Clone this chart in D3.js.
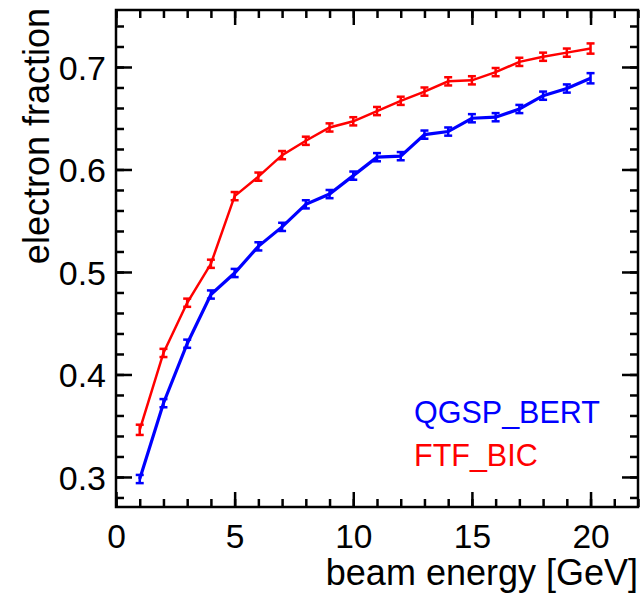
<!DOCTYPE html>
<html>
<head>
<meta charset="utf-8">
<script src="https://cdn.jsdelivr.net/npm/d3@7"></script>
<style>
  body { margin: 0; background: #fff; }
  svg { display: block; font-family: "Liberation Sans", Arial, sans-serif; }
</style>
</head>
<body>
<div id="chart"></div>
<script>
// beam energies [GeV]
var energies = [1, 2, 3, 4, 5, 6, 7, 8, 9, 10, 11, 12, 13, 14, 15, 16, 17, 18, 19, 20];

// electron fraction, QGSP_BERT
var qgspBert = [0.298, 0.372, 0.430, 0.478, 0.499, 0.525, 0.544, 0.566, 0.576, 0.594,
                0.612, 0.613, 0.634, 0.637, 0.650, 0.651, 0.659, 0.672, 0.679, 0.689];
var qgspBertErr = [0.004, 0.004, 0.004, 0.004, 0.004, 0.004, 0.004, 0.004, 0.004, 0.004,
                   0.004, 0.004, 0.004, 0.004, 0.004, 0.004, 0.004, 0.004, 0.004, 0.005];

// electron fraction, FTF_BIC
var ftfBic = [0.346, 0.421, 0.470, 0.508, 0.574, 0.593, 0.614, 0.628, 0.641, 0.647,
              0.657, 0.667, 0.676, 0.686, 0.687, 0.695, 0.705, 0.710, 0.714, 0.718];
var ftfBicErr = [0.005, 0.004, 0.004, 0.004, 0.004, 0.004, 0.004, 0.004, 0.004, 0.004,
                 0.004, 0.004, 0.004, 0.004, 0.004, 0.004, 0.004, 0.004, 0.004, 0.005];

var xMajor = [0, 5, 10, 15, 20];
var yMajor = [0.3, 0.4, 0.5, 0.6, 0.7];

var width = 641, height = 594;
var margin = {top: 10, right: 3, bottom: 87, left: 116};
var w = width - margin.left - margin.right,
    h = height - margin.top - margin.bottom;

var svg = d3.select("#chart").append("svg")
    .attr("width", width)
    .attr("height", height);

var g = svg.append("g")
    .attr("transform", "translate(" + margin.left + "," + margin.top + ")");

var x = d3.scaleLinear().domain([0, 22]).range([0, w]);
var y = d3.scaleLinear().domain([0.2707, 0.7556]).range([h, 0]);

var xMinor = d3.range(0, 23, 1);
var yMinor = d3.range(0.28, 0.75, 0.02);

// ticks (inside the frame, on all four sides)
function tickAxis(axis, vals, size, tx, ty) {
  var a = g.append("g")
      .attr("transform", "translate(" + tx + "," + ty + ")")
      .call(axis.tickValues(vals).tickSize(size).tickFormat(""));
  a.select(".domain").remove();
  a.selectAll("line").attr("stroke", "#000").attr("stroke-width", 2.5);
  return a;
}
tickAxis(d3.axisBottom(x), xMinor, -8, 0, h);
tickAxis(d3.axisBottom(x), xMajor, -15, 0, h);
tickAxis(d3.axisTop(x), xMinor, -8, 0, 0);
tickAxis(d3.axisTop(x), xMajor, -15, 0, 0);
tickAxis(d3.axisLeft(y), yMinor, -8, 0, 0);
tickAxis(d3.axisLeft(y), yMajor, -16, 0, 0);
tickAxis(d3.axisRight(y), yMinor, -8, w, 0);
tickAxis(d3.axisRight(y), yMajor, -16, w, 0);

// tick labels
var xl = g.append("g")
    .attr("transform", "translate(0," + h + ")")
    .call(d3.axisBottom(x).tickValues(xMajor).tickSize(0).tickPadding(0).tickFormat(d3.format("d")));
xl.select(".domain").remove();
xl.selectAll("text")
    .attr("y", 41)
    .attr("dy", 0)
    .attr("font-size", 33.5)
    .attr("font-family", "Liberation Sans, Arial, sans-serif")
    .attr("fill", "#000");

var yl = g.append("g")
    .call(d3.axisLeft(y).tickValues(yMajor).tickSize(0).tickPadding(0).tickFormat(d3.format(".1f")));
yl.select(".domain").remove();
yl.selectAll("text")
    .attr("x", -10)
    .attr("dy", "0.36em")
    .attr("font-size", 34)
    .attr("font-family", "Liberation Sans, Arial, sans-serif")
    .attr("fill", "#000");

// frame
g.append("rect")
    .attr("width", w)
    .attr("height", h)
    .attr("fill", "none")
    .attr("stroke", "#000")
    .attr("stroke-width", 2.5);

// axis titles
svg.append("text")
    .attr("x", 638)
    .attr("y", 585)
    .attr("text-anchor", "end")
    .attr("font-size", 36)
    .text("beam energy [GeV]");

svg.append("text")
    .attr("transform", "translate(49,8) rotate(-90)")
    .attr("text-anchor", "end")
    .attr("font-size", 36)
    .text("electron fraction");

// series
var series = [
  {name: "QGSP_BERT", vals: qgspBert, errs: qgspBertErr, color: "#0000ff", lw: 3.2},
  {name: "FTF_BIC", vals: ftfBic, errs: ftfBicErr, color: "#ff0000", lw: 2.5}
];

var line = d3.line()
    .x(function(d) { return x(d.e); })
    .y(function(d) { return y(d.v); });

series.forEach(function(s) {
  var pts = energies.map(function(e, i) { return {e: e, v: s.vals[i], err: s.errs[i]}; });
  var sg = g.append("g");

  sg.append("path")
      .datum(pts)
      .attr("d", line)
      .attr("fill", "none")
      .attr("stroke", s.color)
      .attr("stroke-width", s.lw);

  var eb = sg.selectAll(".err")
      .data(pts)
      .enter().append("g")
      .attr("class", "err")
      .attr("stroke", s.color)
      .attr("stroke-width", 2.5);
  eb.append("line")
      .attr("x1", function(d) { return x(d.e); })
      .attr("x2", function(d) { return x(d.e); })
      .attr("y1", function(d) { return y(d.v - d.err); })
      .attr("y2", function(d) { return y(d.v + d.err); });
  eb.append("line")
      .attr("x1", function(d) { return x(d.e) - 4; })
      .attr("x2", function(d) { return x(d.e) + 4; })
      .attr("y1", function(d) { return y(d.v - d.err); })
      .attr("y2", function(d) { return y(d.v - d.err); });
  eb.append("line")
      .attr("x1", function(d) { return x(d.e) - 4; })
      .attr("x2", function(d) { return x(d.e) + 4; })
      .attr("y1", function(d) { return y(d.v + d.err); })
      .attr("y2", function(d) { return y(d.v + d.err); });
});

// legend
svg.append("text")
    .attr("x", 414).attr("y", 423)
    .attr("font-size", 30.5)
    .attr("fill", "#0000ff")
    .text("QGSP_BERT");
svg.append("text")
    .attr("x", 414).attr("y", 466)
    .attr("font-size", 30.5)
    .attr("fill", "#ff0000")
    .text("FTF_BIC");
</script>
</body>
</html>
